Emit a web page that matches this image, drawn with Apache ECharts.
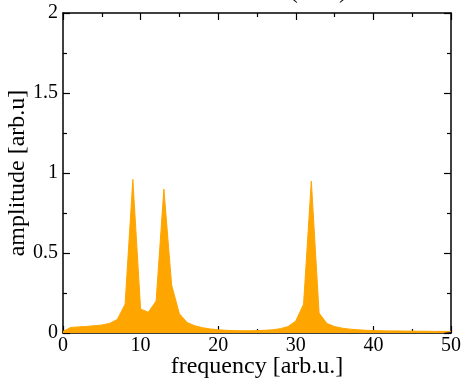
<!DOCTYPE html>
<html>
<head>
<meta charset="utf-8">
<script src="https://cdn.jsdelivr.net/npm/echarts@6/dist/echarts.min.js"></script>
<style>html,body{margin:0;padding:0;background:#fff;}#c{width:463px;height:381px;}</style>
</head>
<body>
<div id="c"></div>
<script>
const titleText = "Fourier (FFT)";
const xName = "frequency [arb.u.]";
const yName = "amplitude [arb.u]";
const frequency = [0,1,2,3,4,5,6,7,8,9,10,11,12,13,14,15,16,17,18,19,20,21,22,23,24,25,26,27,28,29,30,31,32,33,34,35,36,37,38,39,40,41,42,43,44,45,46,47,48,49,50];
const amplitude = [0.01,0.035,0.038,0.041,0.045,0.05,0.06,0.085,0.18,0.96,0.15,0.13,0.2,0.9,0.3,0.12,0.065,0.045,0.033,0.025,0.02,0.017,0.015,0.014,0.014,0.015,0.017,0.02,0.027,0.04,0.075,0.18,0.95,0.125,0.06,0.04,0.03,0.024,0.02,0.017,0.015,0.014,0.013,0.013,0.012,0.012,0.011,0.011,0.01,0.01,0.01];

const font = 'Liberation Serif';
const chart = echarts.init(document.getElementById('c'));
const baseAxis = {
  type: 'value',
  axisLine: {show: true, onZero: false, lineStyle: {color: '#000', width: 1.5}},
  axisTick: {show: true, inside: true, length: 7, lineStyle: {color: '#000', width: 1.2}},
  minorTick: {show: true, splitNumber: 2, length: 4, lineStyle: {color: '#000', width: 1.2}},
  splitLine: {show: false},
  minorSplitLine: {show: false}
};
chart.setOption({
  animation: false,
  title: {
    text: titleText, left: 208, top: -25,
    textStyle: {fontFamily: font, fontSize: 24, fontWeight: 'normal', color: '#000'}
  },
  grid: {left: 63, right: 12, top: 13, bottom: 48, containLabel: false, outerBoundsMode: 'none'},
  xAxis: [
    Object.assign({}, baseAxis, {
      min: 0, max: 50, interval: 10, position: 'bottom',
      name: xName, nameLocation: 'middle', nameGap: 22, nameMoveOverlap: false,
      nameTextStyle: {fontFamily: font, fontSize: 24, color: '#000', verticalAlign: 'top'},
      axisLabel: {fontFamily: font, fontSize: 20, color: '#000', margin: 3}
    }),
    Object.assign({}, baseAxis, {
      min: 0, max: 50, interval: 10, position: 'top',
      axisLabel: {show: false}
    })
  ],
  yAxis: [
    Object.assign({}, baseAxis, {
      min: 0, max: 2, interval: 0.5, position: 'left',
      name: yName, nameLocation: 'middle', nameGap: 33, nameMoveOverlap: false,
      nameTextStyle: {fontFamily: font, fontSize: 24, color: '#000', verticalAlign: 'bottom'},
      axisLabel: {fontFamily: font, fontSize: 20, color: '#000', margin: 5}
    }),
    Object.assign({}, baseAxis, {
      min: 0, max: 2, interval: 0.5, position: 'right',
      axisLabel: {show: false}
    })
  ],
  series: [{
    type: 'line',
    data: frequency.map((f, i) => [f, amplitude[i]]),
    showSymbol: false,
    symbol: 'none',
    lineStyle: {color: '#FFA500', width: 1},
    areaStyle: {color: '#FFA500', opacity: 1},
    z: 1
  }]
});
</script>
</body>
</html>
